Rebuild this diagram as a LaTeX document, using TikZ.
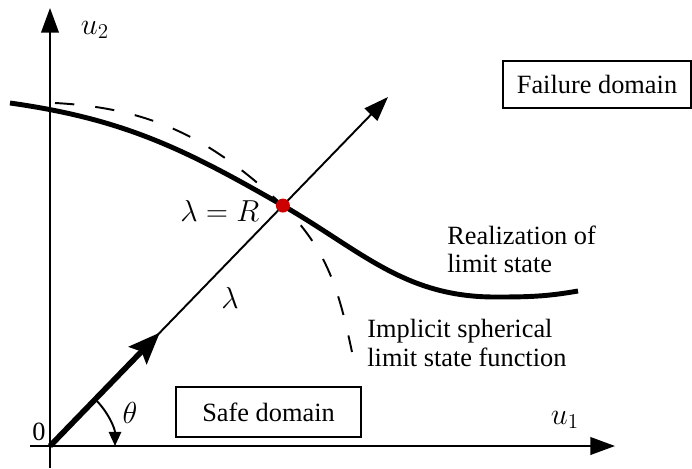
\documentclass[tikz,border=0pt]{standalone}
\usepackage{fontspec}
\setmainfont{Liberation Serif}
\usetikzlibrary{positioning,arrows.meta,calc}
\definecolor{dotred}{RGB}{204,0,0}

\begin{document}
\begin{tikzpicture}[x=0.02cm, y=0.02cm,
  box/.style={rectangle, draw, line width=1.1pt, align=center, font=\fontsize{15}{16}\selectfont, inner sep=0pt},
  axis/.style={line width=1.1pt, -{Triangle[length=14pt, width=10pt]}},
  note/.style={align=left, font=\fontsize{15}{16}\selectfont, inner sep=0pt},
  lbl/.style={font=\fontsize{15}{16}\selectfont, inner sep=1pt},
  sym/.style={font=\fontsize{18}{20}\selectfont, inner sep=1pt},
  dot/.style={circle, fill=dotred, minimum size=0.28cm, inner sep=0pt},
]
\useasboundingbox (0,0) rectangle (692,468);

% === AXES ===
\coordinate (O) at (50,22);
\coordinate (u1end) at (615,22);
\coordinate (u2end) at (50,460);
\coordinate (u1start) at (30,22);
\coordinate (u2start) at (50,0);
\draw[axis] (u1start) -- (u1end);
\draw[axis] (u2start) -- (u2end);
\node[sym] (u1) at (565,48) {$u_1$};
\node[sym] (u2) at (95,438) {$u_2$};
\node[lbl] (zero) at (39,36) {0};

% === SEARCH DIRECTION ===
\coordinate (raytip) at (388,371);
\coordinate (dirtip) at ($(O)!0.325!(raytip)$);
\draw[line width=1.1pt, -{Triangle[length=14pt, width=10pt]}] (O) -- (raytip);
\draw[line width=3.2pt, -{Stealth[length=18pt, width=14pt, inset=3pt]}] (O) -- (dirtip);
\draw[line width=1.1pt, -{Triangle[length=8pt, width=7pt]}] ([shift={(46:65)}]O) arc[start angle=46, end angle=0, radius=65];
\node[sym] (theta) at (130,55) {$\theta$};
\node[sym] (lam) at (230,170) {$\lambda$};

% === LIMIT STATES ===
\coordinate (dstart) at (55,365);
\coordinate (dend) at (352,116);
\coordinate (rstart) at (10,365);
\coordinate (rlow) at (495,171);
\coordinate (rend) at (578,177);
\coordinate (mpp) at ($(O)!0.689!(raytip)$);
\draw[line width=1.1pt, dash pattern=on 11pt off 12pt] (dstart) to[out=-3, in=137] (mpp) to[out=-45, in=102] (dend);
\draw[line width=2.8pt] (rstart) to[out=-8, in=150] (mpp) to[out=-30, in=180] (rlow) to[out=0, in=190] (rend);
\node[dot] (root) at (mpp) {};
\node[sym, left=8pt of root, yshift=-3pt] (lamR) {$\lambda = R$};

\node[note, anchor=west] (real) at (447,219) {Realization of\\limit state};
\node[note, anchor=west] (impl) at (367,125) {Implicit spherical\\limit state function};

% === DOMAINS ===
\node[box, minimum width=3.7cm, minimum height=1.0cm] (safe) at (268.5,56) {Safe domain};
\node[box, minimum width=3.76cm, minimum height=0.94cm] (fail) at (597,383.5) {Failure domain};
\end{tikzpicture}
\end{document}
